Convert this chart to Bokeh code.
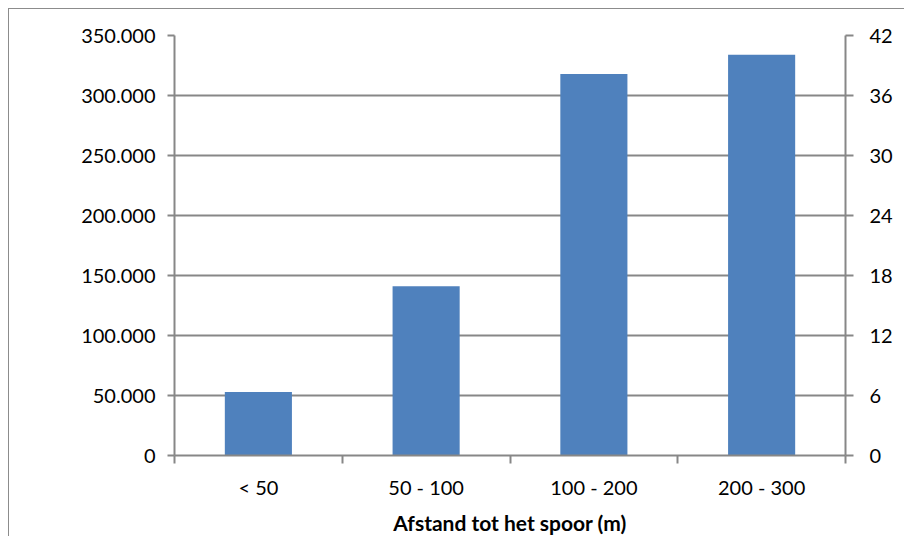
from bokeh.plotting import figure
from bokeh.models import (LinearAxis, Range1d, FixedTicker)
from bokeh.embed import file_html
from bokeh.resources import INLINE

categories = ["< 50", "50 - 100", "100 - 200", "200 - 300"]
values = [53000, 141000, 318000, 334000]
left_ticks = [0, 50000, 100000, 150000, 200000, 250000, 300000, 350000]
right_ticks = [0, 6, 12, 18, 24, 30, 36, 42]
x_title = "Afstand tot het spoor (m)"

FONT = "Lato"
GRAY = "#878787"
BAR = "#4F81BD"

n = len(categories)
xs = [i + 0.5 for i in range(n)]

p = figure(width=896, height=528, output_backend="svg", toolbar_location=None,
           x_range=Range1d(0, n), y_range=Range1d(0, left_ticks[-1]),
           min_border_left=165, min_border_right=60, min_border_top=26,
           min_border_bottom=82, y_axis_location=None, x_axis_location=None)
p.outline_line_color = None
p.styles = {"margin-left": "8px", "margin-top": "8px",
            "border-left": "1px solid #8c8c8c", "border-top": "1px solid #8c8c8c"}

p.vbar(x=xs, top=values, width=0.4, color=BAR, line_color=None)

# x axis
xa = LinearAxis(ticker=FixedTicker(ticks=xs, minor_ticks=list(range(n + 1))))
xa.major_label_overrides = {x: c for x, c in zip(xs, categories)}
xa.major_tick_in = 0
xa.major_tick_out = 0
xa.minor_tick_in = 0
xa.minor_tick_out = 8
xa.minor_tick_line_color = GRAY
xa.minor_tick_line_width = 2
xa.axis_line_color = GRAY
xa.axis_line_width = 2
xa.major_label_standoff = 11
xa.major_label_text_font = FONT
xa.major_label_text_font_size = "20px"
xa.major_label_text_color = "#000000"
xa.axis_label = x_title
xa.axis_label_text_font = FONT
xa.axis_label_text_font_style = "bold"
xa.axis_label_text_font_size = "21px"
xa.axis_label_text_color = "#000000"
xa.axis_label_standoff = 8
p.add_layout(xa, "below")

# left axis
ya = LinearAxis(ticker=FixedTicker(ticks=left_ticks, minor_ticks=[]))
ya.major_label_overrides = {t: f"{t:,}".replace(",", ".") for t in left_ticks}
ya.major_tick_in = 0
ya.major_tick_out = 7
ya.major_tick_line_color = GRAY
ya.major_tick_line_width = 2
ya.axis_line_color = GRAY
ya.axis_line_width = 2
ya.major_label_standoff = 12
ya.major_label_text_font = FONT
ya.major_label_text_font_size = "20px"
ya.major_label_text_color = "#000000"
p.add_layout(ya, "left")

# right axis
p.extra_y_ranges = {"right": Range1d(0, right_ticks[-1])}
ra = LinearAxis(y_range_name="right", ticker=FixedTicker(ticks=right_ticks, minor_ticks=[]))
ra.major_tick_in = 0
ra.major_tick_out = 8
ra.major_tick_line_color = GRAY
ra.major_tick_line_width = 2
ra.axis_line_color = GRAY
ra.axis_line_width = 2
ra.major_label_standoff = 16
ra.major_label_text_font = FONT
ra.major_label_text_font_size = "20px"
ra.major_label_text_color = "#000000"
p.add_layout(ra, "right")

p.xgrid.visible = False
p.ygrid.ticker = FixedTicker(ticks=left_ticks)
p.ygrid.grid_line_color = GRAY
p.ygrid.grid_line_width = 2
p.ygrid.grid_line_alpha = 1.0

open("out.html", "w").write(file_html(p, INLINE))
